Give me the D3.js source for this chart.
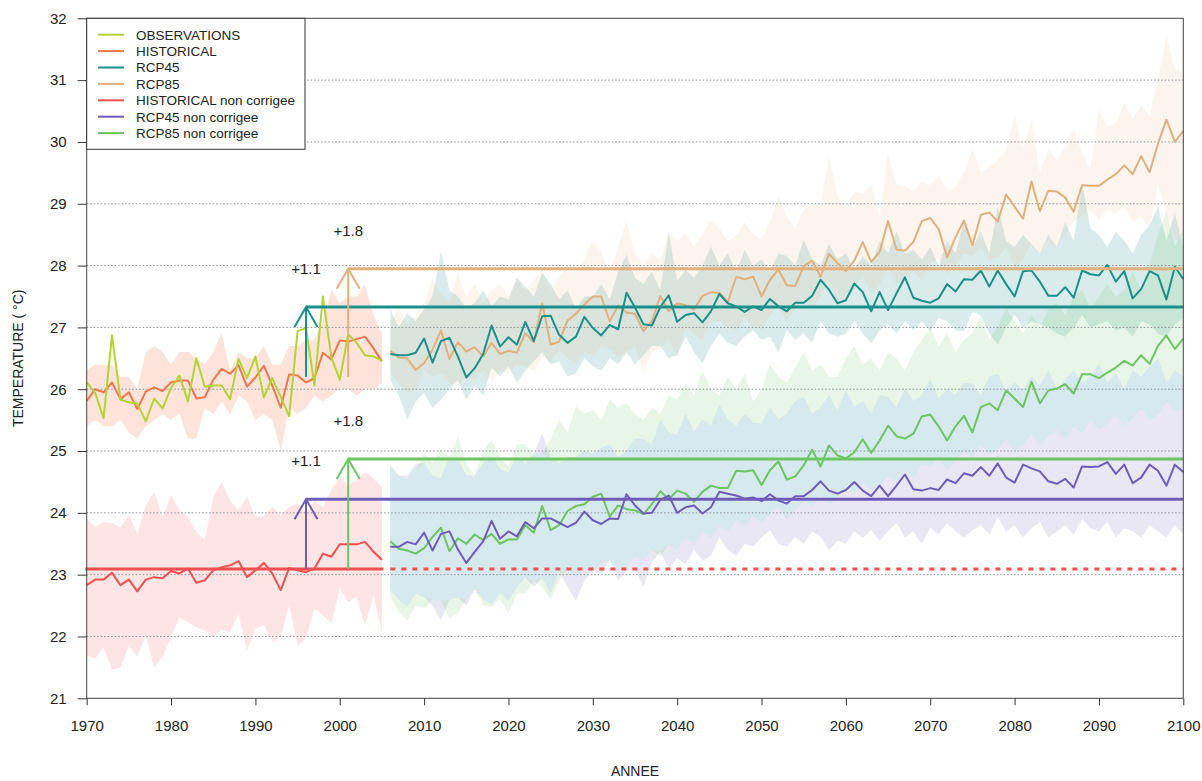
<!DOCTYPE html>
<html>
<head>
<meta charset="utf-8">
<script src="https://cdn.jsdelivr.net/npm/d3@7"></script>
<style>
	body { margin: 0; background: #fff; }
	svg text { font-family: "Liberation Sans", Arial, sans-serif; fill: #222; }
</style>
</head>
<body>
<svg id="chart" width="1202" height="781"></svg>
<script>

// ---- data ----
const histStart = 1970;   // first year of the 1970-2005 series
const projStart = 2006;   // first year of the 2006-2100 series

const observations = [26.11, 25.94, 25.53, 26.87, 25.83, 25.79, 25.77, 25.48, 25.85, 25.69,
	26.02, 26.22, 25.80, 26.50, 26.04, 26.06, 26.06, 25.84, 26.49, 26.18,
	26.53, 25.87, 26.18, 25.88, 25.56, 26.94, 26.99, 26.06, 27.50, 26.52,
	26.15, 26.89, 26.75, 26.55, 26.53, 26.46];

const historical = [25.81, 26.00, 25.95, 26.11, 25.84, 25.95, 25.68, 25.96, 26.03, 25.97,
	26.11, 26.14, 26.14, 25.85, 25.87, 26.15, 26.33, 26.25, 26.39, 26.04,
	26.19, 26.38, 26.06, 25.70, 26.24, 26.22, 26.11, 26.18, 26.59, 26.48,
	26.79, 26.77, 26.81, 26.85, 26.66, 26.45];
const historicalHi = [26.30, 26.40, 26.40, 26.40, 26.20, 26.20, 26.00, 26.60, 26.70, 26.60,
	26.40, 26.60, 26.60, 26.50, 26.40, 26.60, 26.90, 26.30, 26.60, 26.50,
	26.50, 26.70, 26.40, 26.40, 26.70, 26.70, 26.80, 26.80, 27.10, 27.60,
	27.40, 27.50, 27.50, 27.70, 27.20, 26.90];
const historicalLo = [25.40, 25.50, 25.40, 25.40, 25.50, 25.30, 25.20, 25.40, 25.50, 25.60,
	25.50, 25.60, 25.20, 25.20, 25.70, 25.60, 25.80, 25.60, 25.90, 25.80,
	25.50, 25.60, 25.50, 25.00, 25.70, 25.60, 25.70, 25.90, 25.80, 25.90,
	26.00, 26.00, 25.90, 26.00, 26.00, 26.10];

const historicalNc = [22.83, 22.92, 22.92, 23.03, 22.83, 22.92, 22.73, 22.92, 22.96, 22.94,
	23.06, 23.02, 23.10, 22.87, 22.91, 23.07, 23.12, 23.15, 23.22, 22.96,
	23.07, 23.19, 23.02, 22.75, 23.11, 23.07, 23.04, 23.10, 23.34, 23.29,
	23.49, 23.49, 23.49, 23.53, 23.37, 23.24];
const historicalNcHi = [23.91, 23.77, 23.85, 23.83, 23.77, 23.96, 23.66, 24.12, 24.34, 23.94,
	24.29, 24.04, 23.94, 23.69, 23.56, 24.26, 24.50, 24.20, 24.04, 24.26,
	23.94, 23.94, 24.10, 23.96, 24.10, 24.15, 24.00, 24.20, 24.10, 24.37,
	24.58, 24.45, 24.53, 24.66, 24.55, 24.42];
const historicalNcLo = [21.69, 21.64, 21.82, 21.46, 21.50, 21.84, 21.68, 22.00, 21.50, 21.68,
	21.99, 22.31, 22.23, 22.15, 22.10, 21.99, 22.11, 22.07, 22.36, 21.77,
	22.12, 22.19, 21.91, 22.00, 22.50, 21.85, 21.96, 22.45, 22.34, 22.21,
	22.77, 22.56, 22.64, 22.18, 22.66, 22.07];

const rcp45 = [26.57, 26.55, 26.55, 26.59, 26.82, 26.43, 26.78, 26.83, 26.53, 26.19,
	26.34, 26.57, 27.03, 26.69, 26.84, 26.72, 27.09, 26.78, 27.18, 27.19,
	26.88, 26.75, 26.85, 27.17, 26.99, 26.87, 27.04, 26.97, 27.56, 27.32,
	27.05, 27.03, 27.33, 27.52, 27.09, 27.20, 27.23, 27.08, 27.26, 27.54,
	27.39, 27.34, 27.25, 27.34, 27.28, 27.46, 27.34, 27.26, 27.40, 27.40,
	27.51, 27.77, 27.61, 27.39, 27.44, 27.71, 27.57, 27.26, 27.57, 27.28,
	27.55, 27.81, 27.48, 27.43, 27.40, 27.47, 27.70, 27.58, 27.78, 27.77,
	27.92, 27.66, 27.92, 27.70, 27.50, 27.91, 27.92, 27.74, 27.51, 27.51,
	27.65, 27.48, 27.92, 27.86, 27.84, 28.01, 27.74, 27.91, 27.47, 27.62,
	27.91, 27.84, 27.45, 27.98, 27.78];
const rcp45Hi = [27.29, 27.00, 27.23, 27.10, 27.29, 27.50, 28.23, 27.60, 27.50, 27.30,
	27.40, 27.60, 27.35, 27.50, 27.45, 27.80, 27.66, 27.50, 27.88, 27.70,
	27.45, 27.60, 27.30, 27.50, 27.50, 27.70, 27.45, 27.90, 28.18, 27.80,
	27.70, 27.90, 27.60, 28.53, 27.75, 27.93, 27.80, 28.00, 28.31, 28.00,
	28.20, 27.90, 28.25, 28.00, 28.10, 27.90, 28.20, 28.15, 28.00, 28.42,
	28.10, 28.00, 28.35, 28.10, 28.20, 27.95, 28.15, 28.00, 28.40, 28.20,
	28.55, 28.19, 28.25, 28.10, 28.30, 28.00, 28.40, 28.20, 28.73, 28.30,
	28.55, 28.20, 28.95, 28.40, 28.30, 28.50, 28.35, 28.20, 28.50, 28.30,
	28.70, 28.40, 29.33, 28.60, 28.50, 28.30, 28.55, 28.40, 28.20, 28.50,
	28.65, 28.95, 28.40, 28.85, 28.30];
const rcp45Lo = [26.15, 25.90, 25.50, 25.80, 25.94, 25.70, 25.83, 26.00, 26.15, 25.83,
	26.05, 25.90, 26.35, 26.20, 26.37, 26.10, 26.30, 26.45, 26.60, 26.40,
	26.45, 26.20, 26.26, 26.50, 26.37, 26.30, 26.50, 26.40, 26.60, 26.40,
	26.55, 26.70, 26.70, 26.50, 26.55, 26.85, 26.60, 26.42, 26.70, 26.90,
	26.75, 26.70, 26.85, 26.95, 26.80, 26.85, 26.60, 26.96, 26.80, 26.90,
	26.75, 27.10, 26.90, 26.85, 26.90, 27.10, 26.90, 26.74, 26.95, 27.05,
	26.90, 27.10, 26.95, 27.10, 26.94, 27.15, 27.10, 26.95, 26.94, 27.25,
	27.20, 26.90, 26.72, 27.00, 27.20, 27.00, 27.10, 27.05, 27.00, 26.90,
	26.85, 27.00, 27.20, 27.00, 27.05, 27.10, 26.95, 27.00, 26.85, 27.10,
	27.05, 26.90, 26.85, 27.05, 27.15];

const rcp85 = [26.62, 26.51, 26.50, 26.31, 26.42, 26.64, 26.95, 26.49, 26.76, 26.61,
	26.68, 26.53, 26.75, 26.57, 26.62, 26.59, 26.91, 26.76, 27.39, 26.72,
	26.77, 27.11, 27.22, 27.37, 27.50, 27.50, 27.10, 27.35, 27.24, 27.22,
	26.94, 27.10, 27.51, 27.26, 27.39, 27.36, 27.29, 27.51, 27.57, 27.56,
	27.41, 27.82, 27.78, 27.82, 27.50, 27.77, 27.94, 27.68, 27.67, 27.99,
	28.08, 27.82, 28.19, 28.04, 27.91, 28.08, 28.38, 28.06, 28.22, 28.72,
	28.26, 28.24, 28.38, 28.72, 28.77, 28.59, 28.13, 28.46, 28.73, 28.33,
	28.82, 28.86, 28.71, 29.15, 28.95, 28.76, 29.36, 28.88, 29.21, 29.20,
	29.10, 28.87, 29.30, 29.29, 29.29, 29.39, 29.48, 29.62, 29.48, 29.77,
	29.51, 29.97, 30.36, 30.00, 30.18];
const rcp85Hi = [27.10, 27.30, 27.05, 27.20, 27.40, 27.80, 27.55, 27.40, 27.88, 27.50,
	27.70, 27.40, 27.60, 27.70, 27.50, 27.80, 27.60, 27.75, 27.95, 27.60,
	27.80, 28.00, 27.90, 28.10, 28.42, 28.20, 27.90, 28.30, 28.72, 28.20,
	28.00, 28.20, 28.10, 28.53, 28.40, 28.52, 28.30, 28.50, 28.74, 28.60,
	28.40, 28.48, 28.70, 28.50, 28.42, 28.70, 29.12, 28.80, 28.60, 28.90,
	29.00, 28.95, 29.77, 29.10, 28.95, 29.20, 29.17, 29.30, 28.80, 29.82,
	29.30, 29.28, 29.20, 29.35, 29.30, 29.45, 29.20, 29.28, 29.50, 29.88,
	29.50, 29.60, 29.70, 29.88, 30.42, 29.90, 30.36, 29.50, 29.88, 29.70,
	29.93, 30.20, 29.83, 29.55, 30.53, 30.25, 30.30, 30.64, 30.37, 30.59,
	30.42, 31.02, 31.72, 31.18, 31.10];
const rcp85Lo = [26.26, 26.10, 25.94, 26.00, 26.30, 26.20, 26.26, 26.10, 26.05, 26.20,
	26.15, 26.30, 26.15, 26.30, 26.26, 26.40, 26.37, 26.30, 26.53, 26.45,
	26.64, 26.50, 26.42, 26.60, 26.53, 26.70, 26.64, 26.50, 26.58, 26.70,
	26.26, 26.60, 26.64, 26.80, 26.53, 27.00, 26.90, 26.80, 27.10, 27.10,
	27.00, 26.95, 27.17, 27.00, 26.96, 27.20, 27.34, 27.10, 27.30, 27.44,
	27.30, 27.50, 27.77, 27.40, 27.50, 27.60, 27.85, 27.55, 27.70, 27.95,
	27.70, 27.80, 27.90, 27.75, 28.05, 28.10, 27.85, 28.00, 28.20, 28.15,
	28.30, 28.10, 28.13, 28.30, 27.97, 28.10, 28.35, 28.20, 28.40, 28.30,
	28.50, 28.70, 28.80, 28.90, 28.75, 28.90, 28.85, 28.95, 28.70, 28.80,
	28.60, 29.30, 28.90, 28.40, 28.50];

const rcp45Nc = [23.45, 23.45, 23.53, 23.49, 23.68, 23.39, 23.66, 23.70, 23.41, 23.19,
	23.37, 23.54, 23.87, 23.58, 23.70, 23.62, 23.85, 23.75, 23.91, 23.91,
	23.84, 23.77, 23.84, 24.02, 23.88, 23.82, 23.91, 23.90, 24.30, 24.12,
	23.99, 24.00, 24.21, 24.28, 24.00, 24.09, 24.12, 23.99, 24.09, 24.34,
	24.31, 24.28, 24.23, 24.25, 24.19, 24.30, 24.20, 24.15, 24.27, 24.27,
	24.37, 24.51, 24.36, 24.31, 24.37, 24.50, 24.36, 24.27, 24.44, 24.27,
	24.44, 24.62, 24.38, 24.36, 24.40, 24.37, 24.54, 24.48, 24.64, 24.60,
	24.74, 24.60, 24.80, 24.57, 24.49, 24.78, 24.72, 24.67, 24.51, 24.47,
	24.55, 24.41, 24.75, 24.74, 24.75, 24.82, 24.63, 24.78, 24.48, 24.57,
	24.78, 24.68, 24.44, 24.78, 24.66];
const rcp45NcHi = [24.75, 24.60, 24.60, 24.80, 24.80, 24.60, 24.55, 24.90, 24.85, 24.60,
	24.60, 24.80, 24.91, 24.70, 24.65, 24.90, 24.80, 24.95, 25.29, 24.90,
	24.80, 24.90, 24.90, 25.00, 24.95, 25.05, 25.10, 24.90, 25.00, 25.20,
	25.19, 25.10, 25.50, 25.30, 25.26, 25.60, 25.30, 25.50, 25.40, 25.75,
	25.50, 25.40, 25.60, 25.45, 25.44, 25.70, 25.50, 25.60, 25.80, 25.87,
	25.60, 25.70, 25.90, 25.65, 25.98, 25.70, 25.80, 25.60, 25.90, 25.87,
	25.70, 26.00, 25.80, 25.90, 26.15, 25.85, 26.00, 25.90, 26.10, 26.09,
	25.90, 26.20, 26.25, 25.95, 26.10, 26.00, 26.20, 26.05, 26.30, 26.00,
	26.15, 26.30, 26.10, 26.20, 26.40, 26.10, 26.25, 26.00, 26.30, 26.20,
	26.35, 26.50, 26.10, 26.30, 26.20];
const rcp45NcLo = [22.75, 22.60, 22.48, 22.70, 22.64, 22.50, 22.26, 22.60, 22.64, 22.50,
	22.75, 22.60, 22.53, 22.70, 22.59, 22.80, 22.96, 22.80, 22.96, 22.70,
	23.07, 22.80, 22.58, 22.90, 23.07, 23.00, 23.24, 22.90, 23.07, 23.10,
	22.80, 23.20, 23.37, 23.10, 23.26, 23.17, 23.40, 23.23, 23.30, 23.60,
	23.40, 23.30, 23.50, 23.45, 23.60, 23.72, 23.50, 23.45, 23.61, 23.50,
	23.70, 23.61, 23.40, 23.55, 23.50, 23.70, 23.60, 23.72, 23.55, 23.70,
	23.83, 23.60, 23.70, 23.50, 23.75, 23.65, 23.83, 23.70, 23.60, 23.72,
	23.80, 23.65, 23.93, 23.70, 23.80, 23.60, 23.75, 23.85, 23.60, 23.70,
	23.80, 23.65, 23.90, 23.75, 23.70, 23.85, 23.60, 23.75, 23.70, 23.60,
	23.80, 23.70, 23.60, 23.80, 23.65];

const rcp85Nc = [23.54, 23.42, 23.39, 23.34, 23.43, 23.61, 23.76, 23.38, 23.59, 23.50,
	23.65, 23.56, 23.66, 23.50, 23.57, 23.57, 23.80, 23.68, 24.11, 23.72,
	23.80, 24.03, 24.11, 24.14, 24.26, 24.31, 23.94, 24.12, 24.06, 24.04,
	23.98, 24.14, 24.35, 24.22, 24.36, 24.31, 24.18, 24.34, 24.44, 24.40,
	24.40, 24.68, 24.67, 24.69, 24.45, 24.69, 24.83, 24.54, 24.59, 24.77,
	25.02, 24.75, 25.09, 24.93, 24.88, 24.98, 25.19, 24.97, 25.17, 25.41,
	25.24, 25.20, 25.28, 25.56, 25.59, 25.40, 25.17, 25.40, 25.57, 25.30,
	25.71, 25.77, 25.66, 25.98, 25.85, 25.71, 26.12, 25.77, 25.98, 26.01,
	26.08, 25.93, 26.24, 26.24, 26.18, 26.27, 26.35, 26.46, 26.38, 26.55,
	26.41, 26.70, 26.87, 26.65, 26.82];
const rcp85NcHi = [24.80, 24.60, 24.53, 24.70, 24.96, 24.80, 25.02, 24.90, 25.23, 24.80,
	24.60, 25.00, 25.18, 24.90, 24.75, 25.10, 25.12, 24.95, 24.96, 25.20,
	25.50, 25.30, 25.72, 25.60, 25.66, 25.50, 25.83, 25.70, 25.77, 25.60,
	25.50, 25.70, 25.60, 25.90, 25.83, 26.10, 25.90, 26.30, 26.00, 25.90,
	26.20, 26.00, 26.25, 25.80, 26.00, 26.40, 26.20, 26.10, 26.35, 26.60,
	26.30, 26.40, 26.20, 26.20, 26.50, 26.70, 26.40, 26.50, 26.30, 26.60,
	26.50, 26.30, 26.60, 26.80, 27.00, 26.70, 26.90, 26.60, 26.80, 26.90,
	27.20, 26.80, 27.00, 27.30, 27.10, 26.90, 27.20, 27.00, 27.30, 27.40,
	27.20, 27.50, 27.60, 27.30, 27.50, 27.70, 27.50, 27.60, 27.90, 27.60,
	28.00, 28.50, 28.90, 28.30, 28.60];
const rcp85NcLo = [22.64, 22.40, 22.26, 22.50, 22.45, 22.60, 22.58, 22.30, 22.37, 22.60,
	22.80, 22.50, 22.48, 22.60, 22.37, 22.70, 22.69, 22.90, 22.80, 22.60,
	22.91, 23.10, 22.96, 23.10, 23.02, 23.20, 23.24, 23.10, 23.13, 23.30,
	23.24, 23.40, 23.29, 23.50, 23.40, 23.60, 23.50, 23.70, 23.60, 23.80,
	23.70, 23.90, 23.80, 23.95, 23.85, 24.00, 24.10, 23.90, 24.05, 24.20,
	24.10, 24.30, 24.15, 24.25, 24.40, 24.30, 24.50, 24.35, 24.45, 24.60,
	24.50, 24.70, 24.55, 24.80, 24.75, 24.90, 24.70, 24.85, 25.00, 24.90,
	25.10, 24.95, 25.05, 25.20, 25.00, 25.10, 25.30, 25.10, 25.25, 25.35,
	25.20, 25.40, 25.30, 25.50, 25.35, 25.45, 25.60, 25.40, 25.55, 25.70,
	25.50, 25.60, 25.80, 25.65, 25.70];

// mean levels and the change arrows
const histNcMean = 23.09;
const levelNames = ["RCP45", "RCP85", "RCP45 non corrigee", "RCP85 non corrigee"];
const levelValues = [27.33, 27.95, 24.22, 24.87];
const levelBases = [26.2, 26.2, 23.09, 23.09];
const levelStartYears = [1996, 2001, 1996, 2001];
const levelLabels = ["+1.1", "+1.8", "+1.1", "+1.8"];

const legendNames = ["OBSERVATIONS", "HISTORICAL", "RCP45", "RCP85",
	"HISTORICAL non corrigee", "RCP45 non corrigee", "RCP85 non corrigee"];

const xTicks = [1970, 1980, 1990, 2000, 2010, 2020, 2030, 2040, 2050, 2060, 2070, 2080, 2090, 2100];
const yTicks = [21, 22, 23, 24, 25, 26, 27, 28, 29, 30, 31, 32];

// ---- styling ----
const colors = {
	"OBSERVATIONS": "#b4d334",
	"HISTORICAL": "#f2764b",
	"RCP45": "#1b8f8b",
	"RCP85": "#e2b07c",
	"HISTORICAL non corrigee": "#f0504f",
	"RCP45 non corrigee": "#6e5cb8",
	"RCP85 non corrigee": "#6cc462"
};
const ncOverlapColor = "#d6e9ef";

const svg = d3.select("#chart");
const width = 1202, height = 781;
const margin = {top: 18.3, right: 18.7, bottom: 82.7, left: 86.7};

const x = d3.scaleLinear()
	.domain([1970, 2100])
	.range([margin.left, width - margin.right]);
const y = d3.scaleLinear()
	.domain([21, 32])
	.range([height - margin.bottom, margin.top]);

function toPoints(values, start) {
	return values.map((v, i) => ({year: start + i, v: v}));
}
function toBand(lo, hi, start) {
	return lo.map((v, i) => ({year: start + i, lo: v, hi: hi[i]}));
}

const lineGen = d3.line().x(d => x(d.year)).y(d => y(d.v));
const areaGen = d3.area().x(d => x(d.year)).y0(d => y(d.lo)).y1(d => y(d.hi));

// envelopes
const bands = [
	["HISTORICAL", historicalLo, historicalHi, histStart, 0.2],
	["HISTORICAL non corrigee", historicalNcLo, historicalNcHi, histStart, 0.15],
	["RCP45", rcp45Lo, rcp45Hi, projStart, 0.17],
	["RCP85", rcp85Lo, rcp85Hi, projStart, 0.13],
	["RCP45 non corrigee", rcp45NcLo, rcp45NcHi, projStart, 0.15],
	["RCP85 non corrigee", rcp85NcLo, rcp85NcHi, projStart, 0.16]
];

const band_g = svg.append("g");
bands.forEach(b => {
	band_g.append("path")
		.datum(toBand(b[1], b[2], b[3]))
		.attr("d", areaGen)
		.style("fill", colors[b[0]])
		.style("fill-opacity", b[4])
		.style("stroke", "none");
});

// where the two non corrected envelopes cover each other the picture turns light blue
const ncOverlap = rcp45NcLo.map((v, i) => ({
	year: projStart + i,
	lo: Math.max(v, rcp85NcLo[i]),
	hi: Math.min(rcp45NcHi[i], rcp85NcHi[i])
}));
band_g.append("path")
	.datum(ncOverlap)
	.attr("d", areaGen.defined(d => d.hi > d.lo))
	.style("fill", ncOverlapColor)
	.style("stroke", "none");

// grid
svg.append("g").selectAll("line")
	.data(yTicks.filter(t => t > 21 && t < 32))
	.enter()
	.append("line")
	.attr("x1", x(1970)).attr("x2", x(2100))
	.attr("y1", d => y(d)).attr("y2", d => y(d))
	.style("stroke", "#8a8f98")
	.style("stroke-width", 1)
	.style("stroke-dasharray", "1.5,2");

// series lines
const series = [
	["HISTORICAL", historical, histStart],
	["OBSERVATIONS", observations, histStart],
	["HISTORICAL non corrigee", historicalNc, histStart],
	["RCP85", rcp85, projStart],
	["RCP45", rcp45, projStart],
	["RCP85 non corrigee", rcp85Nc, projStart],
	["RCP45 non corrigee", rcp45Nc, projStart]
];
const line_g = svg.append("g");
series.forEach(s => {
	line_g.append("path")
		.datum(toPoints(s[1], s[2]))
		.attr("d", lineGen)
		.style("fill", "none")
		.style("stroke", colors[s[0]])
		.style("stroke-width", 2)
		.style("stroke-linejoin", "round");
});

// non corrected historical mean, solid then dashed
const red = colors["HISTORICAL non corrigee"];
svg.append("line")
	.attr("x1", x(histStart)).attr("x2", x(histStart + historicalNc.length - 1))
	.attr("y1", y(histNcMean)).attr("y2", y(histNcMean))
	.style("stroke", red).style("stroke-width", 3).style("stroke-linecap", "square");
svg.append("line")
	.attr("x1", x(projStart)).attr("x2", x(2100))
	.attr("y1", y(histNcMean)).attr("y2", y(histNcMean))
	.style("stroke", red).style("stroke-width", 3)
	.style("stroke-dasharray", "5,6");

// mean levels with arrows
const arrow_g = svg.append("g");
levelNames.forEach((name, i) => {
	const c = colors[name];
	const xa = x(levelStartYears[i]);
	const yTop = y(levelValues[i]);
	arrow_g.append("line")
		.attr("x1", xa).attr("x2", x(2100))
		.attr("y1", yTop).attr("y2", yTop)
		.style("stroke", c).style("stroke-width", 3);
	arrow_g.append("line")
		.attr("x1", xa).attr("x2", xa)
		.attr("y1", y(levelBases[i])).attr("y2", yTop)
		.style("stroke", c).style("stroke-width", 2);
	arrow_g.append("path")
		.attr("d", "M" + (xa - 11.5) + "," + (yTop + 20) + "L" + xa + "," + yTop + "L" + (xa + 11.5) + "," + (yTop + 20))
		.style("fill", "none").style("stroke", c).style("stroke-width", 2);
	arrow_g.append("text")
		.attr("x", xa)
		.attr("y", yTop - 38)
		.attr("dy", "0.35em")
		.attr("text-anchor", "middle")
		.style("font-size", "15px")
		.text(levelLabels[i]);
});

// frame
svg.append("rect")
	.attr("x", x(1970)).attr("y", y(32))
	.attr("width", x(2100) - x(1970))
	.attr("height", y(21) - y(32))
	.style("fill", "none")
	.style("stroke", "#444")
	.style("stroke-width", 1);

// axes
const x_axis = svg.append("g")
	.attr("transform", "translate(0," + y(21) + ")")
	.call(d3.axisBottom(x).tickValues(xTicks).tickFormat(d3.format("d")).tickSize(7).tickPadding(15));
const y_axis = svg.append("g")
	.attr("transform", "translate(" + x(1970) + ",0)")
	.call(d3.axisLeft(y).tickValues(yTicks).tickSize(9).tickPadding(11));
[x_axis, y_axis].forEach(a => {
	a.select(".domain").remove();
	a.selectAll("line").style("stroke", "#333");
	a.selectAll("text").style("font-size", "15px").style("font-family", "Liberation Sans, Arial, sans-serif").style("fill", "#222");
});

svg.append("text")
	.attr("x", (x(1970) + x(2100)) / 2)
	.attr("y", 776)
	.attr("text-anchor", "middle")
	.style("font-size", "14px")
	.text("ANNEE");
svg.append("text")
	.attr("transform", "translate(23," + (y(21) + y(32)) / 2 + ") rotate(-90)")
	.attr("text-anchor", "middle")
	.style("font-size", "14px")
	.text("TEMPERATURE ( °C)");

// legend
const legend_g = svg.append("g");
legend_g.append("rect")
	.attr("x", x(1970)).attr("y", y(32))
	.attr("width", 218.3).attr("height", 131)
	.style("fill", "#fff")
	.style("stroke", "#333")
	.style("stroke-width", 1);
legendNames.forEach((name, i) => {
	const ly = 34.7 + i * 16.4;
	legend_g.append("line")
		.attr("x1", 98).attr("x2", 124)
		.attr("y1", ly).attr("y2", ly)
		.style("stroke", colors[name]).style("stroke-width", 2);
	legend_g.append("text")
		.attr("x", 136).attr("y", ly)
		.attr("dy", "0.36em")
		.style("font-size", "13.5px")
		.text(name);
});

</script>
</body>
</html>
